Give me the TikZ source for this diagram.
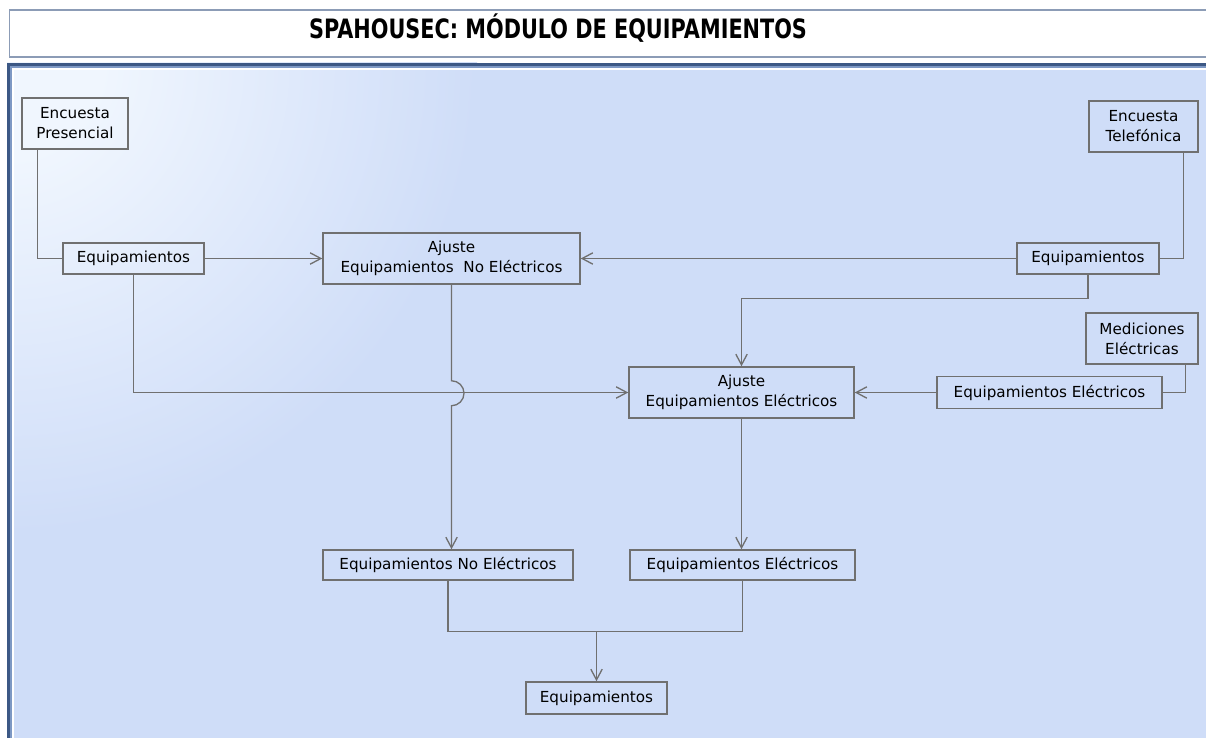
\documentclass[tikz,border=0pt]{standalone}
\usepackage{fontspec}
\setmainfont{DejaVu Sans}
\newfontfamily\titlefont[FakeStretch=0.78]{DejaVu Sans}
\usetikzlibrary{arrows.meta}
\definecolor{linegray}{RGB}{112,112,112}
\definecolor{panelbg}{RGB}{207,221,248}
\definecolor{panelhi}{RGB}{240,246,254}
\definecolor{paneledge}{RGB}{60,88,133}
\definecolor{panelline}{RGB}{125,152,196}
\definecolor{titleedge}{RGB}{140,156,182}
\pgfdeclareradialshading{cornerglow}{\pgfpoint{0bp}{0bp}}{color(0bp)=(panelhi); color(5bp)=(panelhi); color(25bp)=(panelbg); color(50bp)=(panelbg)}

\begin{document}
\begin{tikzpicture}[x=0.75pt,y=0.75pt,yscale=-1,xscale=1,
  box/.style={draw=linegray,line width=1.1pt,inner sep=0pt,align=center,font=\fontsize{11.4}{15}\selectfont},
  link/.style={draw=linegray,line width=1pt},
  arr/.style={link,-{Straight Barb[length=8pt,width=8.5pt,line width=1pt]}}]
\useasboundingbox (0,0) rectangle (1206,738);

%Shape: Panel [background]
\fill[panelbg] (7,63) rectangle (1215,750);
\begin{scope}
\clip (7,63) rectangle (1215,750);
\shade[shading=cornerglow] (7,63) circle (470);
\end{scope}
\draw[paneledge,line width=2pt] (8.6,750) -- (8.6,64.6) -- (1215,64.6);
\draw[panelline,line width=1.1pt] (11.2,750) -- (11.2,67.2) -- (1215,67.2);
\draw[white,line width=0.8pt] (13,750) -- (13,69) -- (1215,69);

%Shape: Rectangle [title]
\draw[titleedge,fill=white,line width=1.2pt] (9.5,10) rectangle (1215,57);
% Text Node
\draw (558,39) node [anchor=base,font=\titlefont\bfseries\fontsize{20}{24}\selectfont] (title) {SPAHOUSEC: MÓDULO DE EQUIPAMIENTOS};

% Text Node
\draw (75,123.5) node [box,minimum width=79.5pt,minimum height=38.25pt] (pres) {Encuesta\\Presencial};
% Text Node
\draw (1143.5,126.5) node [box,minimum width=81.75pt,minimum height=38.25pt] (tel) {Encuesta\\Telefónica};
% Text Node
\draw (133.5,258.5) node [box,minimum width=105.75pt,minimum height=23.25pt] (eqL) {Equipamientos};
% Text Node
\draw (451.5,258.5) node [box,minimum width=192.75pt,minimum height=38.25pt] (ajNE) {Ajuste\\Equipamientos~~No Eléctricos};
% Text Node
\draw (1088,258.5) node [box,minimum width=106.5pt,minimum height=23.25pt] (eqR) {Equipamientos};
% Text Node
\draw (1142,338.5) node [box,minimum width=84pt,minimum height=38.25pt] (med) {Mediciones\\Eléctricas};
% Text Node
\draw (741.5,392.5) node [box,minimum width=168.75pt,minimum height=38.25pt] (ajE) {Ajuste\\Equipamientos Eléctricos};
% Text Node
\draw (1049.5,392.5) node [box,minimum width=168.75pt,minimum height=24pt] (eqER) {Equipamientos Eléctricos};
% Text Node
\draw (448,565) node [box,minimum width=187.5pt,minimum height=22.5pt] (eqNE) {Equipamientos No Eléctricos};
% Text Node
\draw (742.5,565) node [box,minimum width=168.75pt,minimum height=22.5pt] (eqE) {Equipamientos Eléctricos};
% Text Node
\draw (596.5,698) node [box,minimum width=105.75pt,minimum height=24pt] (eqF) {Equipamientos};

%Straight Lines
\draw[link] ([xshift=12pt]pres.south west) |- (eqL.west);
\draw[arr] (eqL.east) -- (ajNE.west);
\draw[link] ([xshift=-11.25pt]tel.south east) |- (eqR.east);
\draw[arr] (eqR.west) -- (ajNE.east);
\draw[arr] (eqR.south) -- ++(0,24) -| (ajE.north);
\draw[link] ([xshift=-9.75pt]med.south east) |- (eqER.east);
\draw[arr] (eqER.west) -- (ajE.east);
\draw[arr] (eqL.south) |- (ajE.west);
%Straight Lines [hop]
\draw[arr] (ajNE.south) -- ++(0,96) arc[start angle=-90,end angle=90,radius=12.5] -- (ajNE.south |- eqNE.north);
\draw[arr] (ajE.south) -- (ajE.south |- eqE.north);
\draw[link] (eqNE.south) -- ++(0,51) -| (eqE.south);
\coordinate (join) at (596.5,631);
\draw[arr] (join) -- (eqF.north);

\end{tikzpicture}
\end{document}
